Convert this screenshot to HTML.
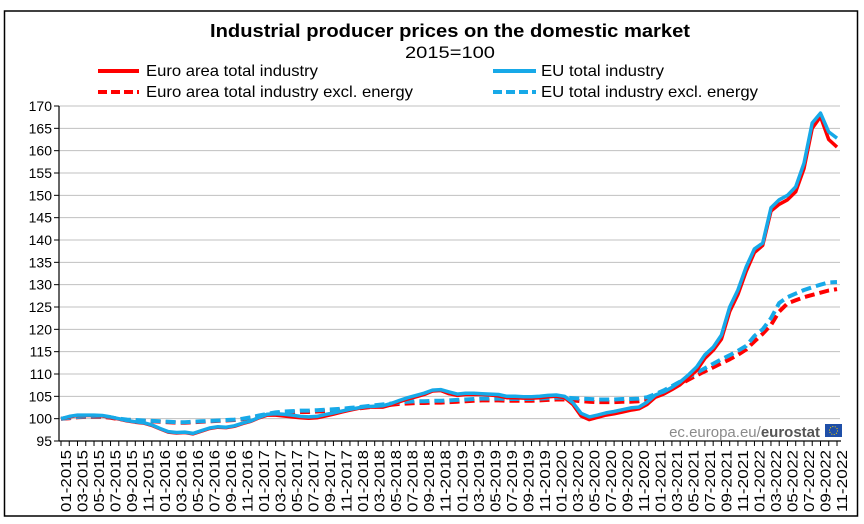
<!DOCTYPE html>
<html><head><meta charset="utf-8"><style>
html,body{margin:0;padding:0;background:#fff;}
svg{display:block;font-family:"Liberation Sans",Arial,sans-serif;}
</style></head><body>
<svg id="chart" width="864" height="524" viewBox="0 0 864 524">
<rect x="4.5" y="11" width="853" height="505" fill="#fff" stroke="#000" stroke-width="1.5"/>
<text x="210" y="37" font-size="18" font-weight="bold" textLength="480" lengthAdjust="spacingAndGlyphs">Industrial producer prices on the domestic market</text>
<text x="405" y="58" font-size="17" textLength="90" lengthAdjust="spacingAndGlyphs">2015=100</text>
<g>
<g><line x1="98" y1="71" x2="139" y2="71" stroke="#ff0000" stroke-width="4"/><text x="146" y="76" font-size="16" textLength="172" lengthAdjust="spacingAndGlyphs">Euro area total industry</text></g>
<g><line x1="98" y1="92" x2="139" y2="92" stroke="#ff0000" stroke-width="4" stroke-dasharray="9,4"/><text x="146" y="97" font-size="16" textLength="267" lengthAdjust="spacingAndGlyphs">Euro area total industry excl. energy</text></g>
<g><line x1="493" y1="71" x2="536" y2="71" stroke="#17a9e8" stroke-width="4"/><text x="541" y="76" font-size="16" textLength="123" lengthAdjust="spacingAndGlyphs">EU total industry</text></g>
<g><line x1="493" y1="92" x2="536" y2="92" stroke="#17a9e8" stroke-width="4" stroke-dasharray="9,4"/><text x="541" y="97" font-size="16" textLength="217" lengthAdjust="spacingAndGlyphs">EU total industry excl. energy</text></g>
</g>
<g id="grid"></g>
<g id="yaxis"></g>
<g id="xaxis"></g>
<g id="series"></g>
<g>
<text x="820" y="437" text-anchor="end" font-size="15" fill="#8a8a8a">ec.europa.eu/<tspan font-weight="bold" fill="#555">eurostat</tspan></text>
<rect x="825" y="424" width="17" height="13" fill="#1f4fa8"/>
<circle cx="833.5" cy="430.5" r="4" fill="none" stroke="#ffd700" stroke-width="1" stroke-dasharray="1,1.5"/>
</g>
</svg>
<script>
const yTicks = [95,100,105,110,115,120,125,130,135,140,145,150,155,160,165,170];
const startYear = 2015;
const monthCount = 95;
const euTotal = [100,100.5,100.8,100.8,100.8,100.7,100.4,100,99.6,99.3,99.1,98.6,
97.8,97.1,96.9,97,96.7,97.3,97.9,98.2,98.1,98.4,99,99.5,
100.3,101,101.1,101,100.8,100.5,100.4,100.5,100.9,101.3,101.7,102.1,
102.4,102.7,102.8,102.9,103.4,104.1,104.7,105.2,105.7,106.4,106.5,106,
105.5,105.7,105.7,105.6,105.5,105.4,105,105,104.9,104.9,105,105.2,
105.3,105.0,103.6,101.2,100.4,100.8,101.3,101.6,102,102.4,102.6,103.7,
105.3,106,107,108.2,109.8,111.6,114.3,116,118.7,125,128.8,134,
138,139.3,147.2,149,150,151.9,157.2,166.2,168.4,164.2,162.8];
const euroTotal = [100,100.4,100.7,100.7,100.7,100.6,100.3,99.9,99.5,99.2,99,98.5,
97.7,97,96.8,96.9,96.6,97.2,97.8,98.1,98,98.3,98.9,99.4,
100.2,100.8,100.8,100.6,100.4,100.2,100.1,100.2,100.6,101,101.5,101.9,
102.3,102.6,102.6,102.6,103.1,103.8,104.4,104.9,105.4,106.2,106.3,105.6,
105.2,105.4,105.4,105.4,105.3,105.1,104.7,104.7,104.6,104.6,104.7,104.9,
105,104.7,103.2,100.6,99.8,100.3,100.8,101.1,101.5,101.9,102.2,103.2,
104.8,105.5,106.5,107.6,109.2,110.8,113.5,115.3,117.8,124,127.8,133,
137.2,138.8,146.5,148,149,150.8,156,165,167.6,162.5,160.8];
const euExcl = [100,100.2,100.4,100.5,100.5,100.5,100.3,100,99.8,99.7,99.6,99.5,
99.4,99.3,99.2,99.2,99.3,99.4,99.5,99.6,99.7,99.8,100,100.3,
100.7,101.1,101.4,101.6,101.7,101.8,101.8,101.9,102,102.1,102.2,102.4,
102.6,102.8,103,103.2,103.4,103.6,103.8,103.9,103.9,104,104,104.1,
104.2,104.3,104.4,104.5,104.5,104.5,104.4,104.4,104.4,104.4,104.5,104.6,
104.7,104.7,104.6,104.5,104.4,104.3,104.3,104.3,104.4,104.4,104.5,104.8,
105.5,106.3,107.3,108.3,109.3,110.3,111.3,112.3,113.3,114.2,115.2,116.3,
118.5,120,122.5,125.9,127.2,128,128.8,129.4,130,130.5,130.6];
const euroExcl = [100,100.1,100.3,100.4,100.4,100.4,100.2,99.9,99.7,99.6,99.5,99.4,
99.3,99.2,99.1,99.1,99.2,99.3,99.4,99.5,99.6,99.7,99.9,100.2,
100.5,100.9,101.1,101.3,101.4,101.5,101.5,101.6,101.7,101.8,101.9,102.1,
102.3,102.5,102.7,102.9,103.1,103.3,103.4,103.5,103.5,103.6,103.6,103.7,
103.8,103.9,104,104.1,104.1,104.1,104,104,104,104,104.1,104.2,
104.3,104.3,104.1,103.9,103.8,103.7,103.7,103.7,103.8,103.8,103.9,104.2,
104.9,105.7,106.7,107.7,108.7,109.7,110.6,111.5,112.4,113.3,114.3,115.5,
117.3,119,121,124,125.8,126.5,127.2,127.7,128.2,128.7,129];

const NS='http://www.w3.org/2000/svg';
const X0=61, X1=837, Y0=441, Y1=106, VMIN=95, VMAX=170;
function xs(i){return X0+(X1-X0)*i/(monthCount-1);}
function ys(v){return Y0-(v-VMIN)/(VMAX-VMIN)*(Y0-Y1);}
function mk(tag,attrs,parent){const e=document.createElementNS(NS,tag);for(const k in attrs)e.setAttribute(k,attrs[k]);parent.appendChild(e);return e;}
const grid=document.getElementById('grid'), yax=document.getElementById('yaxis'), xax=document.getElementById('xaxis'), ser=document.getElementById('series');
yTicks.forEach(t=>{
  const y=ys(t);
  if(t>VMIN){const g=mk('line',{x1:59,x2:840,y1:y,y2:y,stroke:'#c0c0c0','stroke-width':1},grid);
  
  }
  const tk=mk('line',{x1:54,x2:59,y1:y,y2:y,stroke:'#000'},yax);
  
  
  const tx=mk('text',{x:52,y:y+5,'text-anchor':'end','font-size':14},yax);
  
  
  tx.textContent=t;
});
const ya=mk('line',{x1:59,x2:59,y1:Y1,y2:Y0,stroke:'#000','stroke-width':1.2},yax);


const xa=mk('line',{x1:59,x2:841,y1:Y0,y2:Y0,stroke:'#000','stroke-width':1.2},xax);


for(let i=0;i<monthCount;i++){
  const x=xs(i);
  const tk=mk('line',{x1:x,x2:x,y1:Y0,y2:Y0+5,stroke:'#000'},xax);
  
  
  if(i%2===0){
    const m=(i%12)+1, yr=startYear+Math.floor(i/12);
    const lbl=(m<10?'0':'')+m+'-'+yr;
    const tx=mk('text',{x:0,y:0,'text-anchor':'end','font-size':15,textLength:62,lengthAdjust:'spacingAndGlyphs',transform:'translate('+(x+10)+','+(Y0+9)+') rotate(-90)'},xax);
    
    
    tx.textContent=lbl;
  }
}
function line(arr,color,dash,name){
  const d=arr.map((v,i)=>(i?'L':'M')+xs(i).toFixed(1)+','+ys(v).toFixed(1)).join('');
  const p=mk('path',{d:d,fill:'none',stroke:color,'stroke-width':dash?4:3.5,'stroke-linejoin':'round'},ser);
  if(dash)p.setAttribute('stroke-dasharray','10,5');
  
  
}
line(euroExcl,'#ff0000',true,'line-euro-area-excl-energy');
line(euExcl,'#17a9e8',true,'line-eu-excl-energy');
line(euroTotal,'#ff0000',false,'line-euro-area-total');
line(euTotal,'#17a9e8',false,'line-eu-total');
</script>
</body></html>
